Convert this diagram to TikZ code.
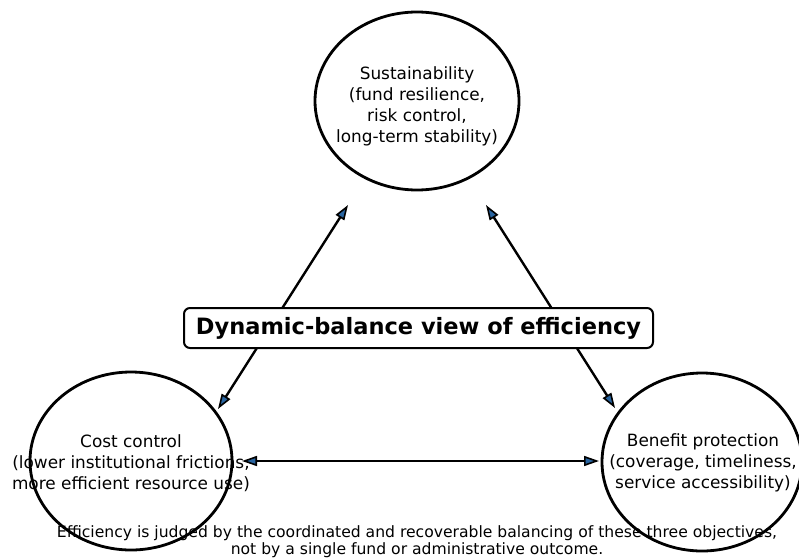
\documentclass[tikz,border=0pt]{standalone}
\usepackage{fontspec}
\setmainfont{DejaVu Sans}
\usetikzlibrary{shapes.geometric,arrows.meta}
\definecolor{headblue}{RGB}{40,100,160}
\tikzset{
  goal/.style={ellipse, draw=black, line width=2.8pt, inner sep=0pt,
    minimum width=204pt, minimum height=178pt, align=center,
    font=\fontsize{16.7}{21}\selectfont},
  goaltext/.style={align=center, font=\fontsize{16.9}{21}\selectfont, inner sep=0pt},
  link/.style={line width=2.4pt, draw=black,
    {Triangle[length=15pt,width=10pt,fill=headblue,line width=1.6pt]}-{Triangle[length=15pt,width=10pt,fill=headblue,line width=1.6pt]}},
  titlebox/.style={draw=black, fill=white, rounded corners=6pt, line width=2pt,
    minimum width=469pt, minimum height=40pt, inner sep=0pt,
    font=\fontsize{22.5}{26}\selectfont\bfseries},
  caption/.style={align=center, inner sep=0pt, font=\fontsize{15.6}{17}\selectfont}
}
\begin{document}
\begin{tikzpicture}[x=1pt,y=-1pt]
\useasboundingbox (0,0) rectangle (799,559);
% caption first (ellipses are drawn over it)
\node[caption] (cap) at (417,542) {Efficiency is judged by the coordinated and recoverable balancing of these three objectives,\\not by a single fund or administrative outcome.};
% texts
\node[goaltext] (ttop) at (417,106) {Sustainability\\(fund resilience,\\risk control,\\long-term stability)};
\node[goaltext] (tleft) at (131,463) {Cost control\\(lower institutional frictions,\\more efficient resource use)};
\node[goaltext] (tright) at (703,463) {Benefit protection\\(coverage, timeliness,\\service accessibility)};
% ellipses
\node[goal] (top) at (417,101) {};
\node[goal, minimum width=202pt] (left) at (131,461) {};
\node[goal, minimum width=200pt] (right) at (702,462) {};
% arrow end points
\coordinate (tl) at (348,205);
\coordinate (lt) at (218,409);
\coordinate (tr) at (486,205);
\coordinate (rt) at (615,408);
\coordinate (lr) at (242,461);
\coordinate (rl) at (599,461);
\draw[link] (lt) -- (tl);
\draw[link] (tr) -- (rt);
\draw[link] (lr) -- (rl);
% title box
\node[titlebox] (title) at (418.5,328) {Dynamic-balance view of efficiency};
\end{tikzpicture}
\end{document}
